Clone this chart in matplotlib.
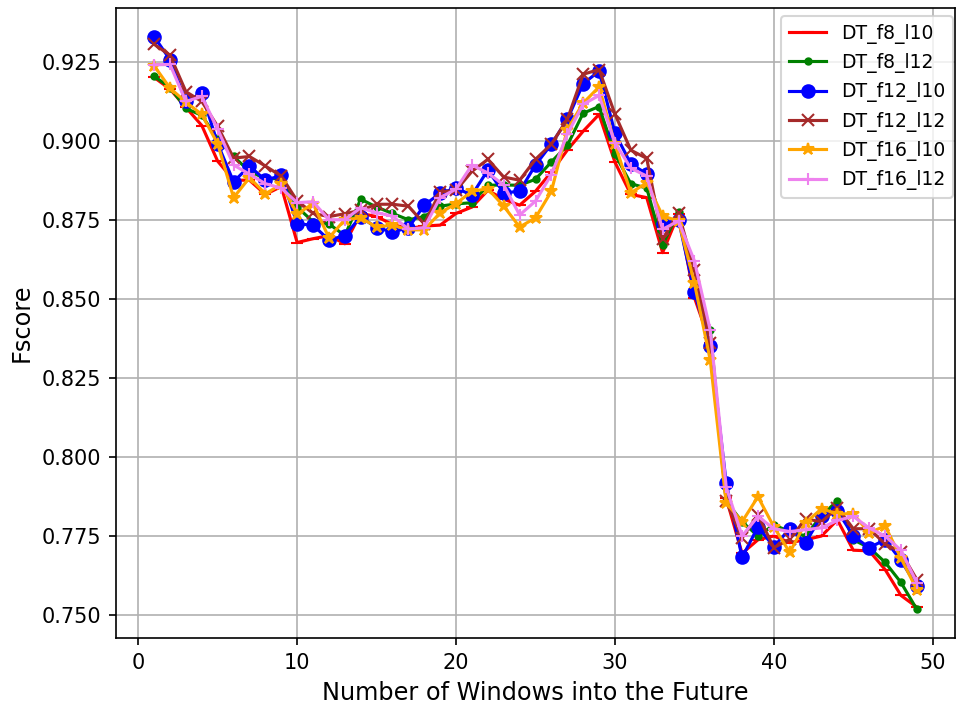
import matplotlib
matplotlib.use("Agg")
import matplotlib.pyplot as plt

windows = list(range(1, 50))

dt_f8_l10 = [0.9200, 0.9163, 0.9105, 0.9048, 0.8935, 0.8875, 0.8875, 0.8830, 0.8855, 0.8678,
             0.8690, 0.8700, 0.8674, 0.8770, 0.8760, 0.8735, 0.8722, 0.8730, 0.8733, 0.8770,
             0.8790, 0.8843, 0.8815, 0.8796, 0.8840, 0.8901, 0.8970, 0.9030, 0.9083, 0.8932,
             0.8830, 0.8820, 0.8646, 0.8768, 0.8504, 0.8360, 0.7870, 0.7695, 0.7738, 0.7750,
             0.7729, 0.7738, 0.7750, 0.7801, 0.7705, 0.7703, 0.7644, 0.7562, 0.7525]

dt_f8_l12 = [0.9204, 0.9168, 0.9102, 0.9080, 0.9005, 0.8950, 0.8903, 0.8880, 0.8880, 0.8790,
             0.8744, 0.8737, 0.8700, 0.8815, 0.8790, 0.8770, 0.8750, 0.8760, 0.8793, 0.8800,
             0.8804, 0.8859, 0.8860, 0.8859, 0.8878, 0.8933, 0.8985, 0.9087, 0.9108, 0.8957,
             0.8864, 0.8850, 0.8670, 0.8775, 0.8530, 0.8400, 0.7860, 0.7795, 0.7750, 0.7785,
             0.7764, 0.7750, 0.7815, 0.7861, 0.7738, 0.7713, 0.7667, 0.7603, 0.7518]

dt_f12_l10 = [0.9329, 0.9256, 0.9124, 0.9150, 0.8990, 0.8870, 0.8920, 0.8875, 0.8890, 0.8737,
              0.8733, 0.8686, 0.8700, 0.8760, 0.8724, 0.8712, 0.8724, 0.8796, 0.8834, 0.8850,
              0.8828, 0.8907, 0.8835, 0.8840, 0.8923, 0.8989, 0.9067, 0.9180, 0.9220, 0.9024,
              0.8927, 0.8895, 0.8737, 0.8750, 0.8520, 0.8352, 0.7918, 0.7682, 0.7779, 0.7716,
              0.7773, 0.7729, 0.7814, 0.7830, 0.7750, 0.7713, 0.7738, 0.7673, 0.7591]

dt_f12_l12 = [0.9305, 0.9270, 0.9155, 0.9124, 0.9045, 0.8945, 0.8950, 0.8920, 0.8888, 0.8810,
              0.8770, 0.8760, 0.8769, 0.8780, 0.8799, 0.8799, 0.8793, 0.8737, 0.8838, 0.8843,
              0.8903, 0.8941, 0.8885, 0.8875, 0.8941, 0.8989, 0.9067, 0.9210, 0.9225, 0.9084,
              0.8970, 0.8944, 0.8689, 0.8772, 0.8590, 0.8360, 0.7860, 0.7744, 0.7817, 0.7713,
              0.7740, 0.7804, 0.7795, 0.7839, 0.7773, 0.7773, 0.7725, 0.7698, 0.7612]

dt_f16_l10 = [0.9237, 0.9166, 0.9122, 0.9083, 0.8990, 0.8820, 0.8883, 0.8832, 0.8862, 0.8768,
              0.8801, 0.8693, 0.8750, 0.8756, 0.8727, 0.8733, 0.8718, 0.8718, 0.8772, 0.8801,
              0.8840, 0.8848, 0.8793, 0.8727, 0.8756, 0.8840, 0.9035, 0.9119, 0.9170, 0.8989,
              0.8835, 0.8867, 0.8762, 0.8746, 0.8550, 0.8305, 0.7855, 0.7795, 0.7874, 0.7779,
              0.7698, 0.7792, 0.7836, 0.7820, 0.7820, 0.7760, 0.7782, 0.7680, 0.7580]

dt_f16_l12 = [0.9240, 0.9241, 0.9124, 0.9140, 0.9036, 0.8923, 0.8894, 0.8864, 0.8850, 0.8804,
              0.8807, 0.8750, 0.8750, 0.8788, 0.8772, 0.8762, 0.8720, 0.8725, 0.8820, 0.8847,
              0.8923, 0.8898, 0.8860, 0.8765, 0.8809, 0.8893, 0.9020, 0.9115, 0.9143, 0.8993,
              0.8913, 0.8888, 0.8720, 0.8746, 0.8620, 0.8400, 0.7905, 0.7750, 0.7812, 0.7773,
              0.7764, 0.7770, 0.7776, 0.7799, 0.7812, 0.7775, 0.7750, 0.7705, 0.7602]

series = [
    ("DT_f8_l10", dt_f8_l10, "red", "_"),
    ("DT_f8_l12", dt_f8_l12, "green", "."),
    ("DT_f12_l10", dt_f12_l10, "blue", "o"),
    ("DT_f12_l12", dt_f12_l12, "brown", "x"),
    ("DT_f16_l10", dt_f16_l10, "orange", "*"),
    ("DT_f16_l12", dt_f16_l12, "violet", "+"),
]

W, H, DPI = 958, 711, 150
fig = plt.figure(figsize=(W / DPI, H / DPI), dpi=DPI)
ax = fig.add_axes([116 / W, 1 - 638 / H, (955 - 116) / W, (638 - 8) / H])

for label, values, color, marker in series:
    ax.plot(windows, values, color=color, marker=marker, label=label)

ax.set_xlabel("Number of Windows into the Future", fontsize=11.5)
ax.set_ylabel("Fscore", fontsize=11.5)
ax.grid(True)
ax.legend(loc="upper right", fontsize=9, borderaxespad=0,
          bbox_to_anchor=(953 / W, 1 - 16 / H), bbox_transform=fig.transFigure)

fig.savefig("out.png", dpi=DPI)
